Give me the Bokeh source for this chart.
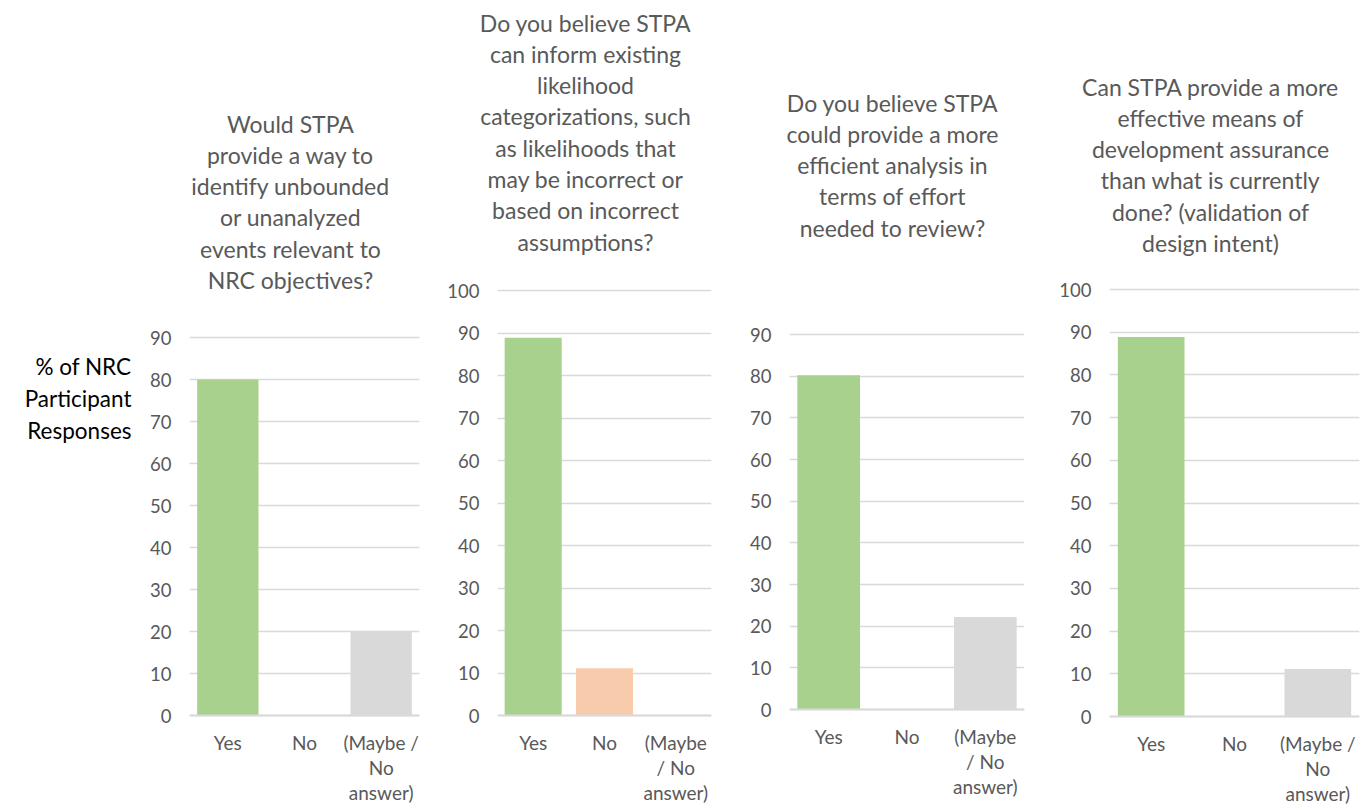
from bokeh.plotting import figure
from bokeh.layouts import row, column
from bokeh.models import FactorRange, Range1d, FixedTicker, Span
from bokeh.core.properties import value
from bokeh.embed import file_html
from bokeh.resources import INLINE

# ---------------- data ----------------
categories = ["Yes", "No", "(Maybe / No answer)"]
bar_colors = ["#A9D18E", "#F8CBAD", "#D9D9D9"]

titles = [
    ["Would STPA", "provide a way to", "identify unbounded", "or unanalyzed",
     "events relevant to", "NRC objectives?"],
    ["Do you believe STPA", "can inform existing", "likelihood", "categorizations, such",
     "as likelihoods that", "may be incorrect or", "based on incorrect", "assumptions?"],
    ["Do you believe STPA", "could provide a more", "efficient analysis in",
     "terms of effort", "needed to review?"],
    ["Can STPA provide a more", "effective means of", "development assurance",
     "than what is currently", "done? (validation of", "design intent)"],
]
q1_values = [80, 0, 20]
q2_values = [88.9, 11.1, 0]
q3_values = [80.2, 0, 22.2]
q4_values = [88.9, 0, 11.1]
all_values = [q1_values, q2_values, q3_values, q4_values]
y_max = [90, 100, 90, 100]
cat_labels = [
    [["Yes"], ["No"], ["(Maybe /", "No", "answer)"]],
    [["Yes"], ["No"], ["(Maybe", "/ No", "answer)"]],
    [["Yes"], ["No"], ["(Maybe", "/ No", "answer)"]],
    [["Yes"], ["No"], ["(Maybe /", "No", "answer)"]],
]
y_label = ["% of NRC", "Participant", "Responses"]

# ---------------- layout (pixels) ----------------
FONT = "Lato"
GRAY = "#595959"
H = 805
PAD = 12           # space above the top gridline inside the chart figure
TITLE_LS = 31.3    # title line spacing
CAT_LS = 25        # category label line spacing
CAT_GAP = 27       # baseline -> first category label line centre
# width, border left, border right, top gridline px, zero px, title shift, first title line px
panels = [
    (300, 49, 21, 337, 715, 0, 123),
    (300, 57, 29, 290, 715, -5, 22),
    (300, 49, 16, 334, 709, 2, 102),
    (320, 69, 1, 289, 716, 10, 86),
]


def bare(width, height, xr, yr):
    f = figure(width=width, height=height, x_range=xr, y_range=yr,
               x_axis_type=None, y_axis_type=None,
               output_backend="svg", toolbar_location=None,
               min_border_left=0, min_border_right=0,
               min_border_top=0, min_border_bottom=0)
    f.grid.visible = False
    f.outline_line_color = None
    f.frame_align = False
    return f


# y label panel
p0 = bare(140, H, Range1d(0, 140), Range1d(0, H))
yl_first = 366
p0.text(x=[131] * 3, y=[H - (yl_first + k * 32) for k in range(3)], text=y_label,
        text_align="right", text_baseline="middle", text_font=value(FONT),
        text_font_size="22.5px", text_color="#000000")
children = [p0]

for i in range(4):
    w, bl, br, ytop, y0, tshift, tfirst = panels[i]
    vals = all_values[i]
    ymax = y_max[i]

    # ---- title figure ----
    th = ytop - PAD
    tf = bare(w, th, Range1d(0, w), Range1d(0, th))
    lines = titles[i]
    tf.text(x=[w / 2 + tshift] * len(lines),
            y=[th - (tfirst + k * TITLE_LS) for k in range(len(lines))],
            text=lines, text_align="center", text_baseline="middle",
            text_font=value(FONT), text_font_size="23px", text_color=GRAY)

    # ---- chart figure ----
    ch = H - th
    scale = (y0 - ytop) / ymax
    p = figure(width=w, height=ch, x_range=FactorRange(factors=categories),
               y_range=Range1d(-(H - y0) / scale, ymax + PAD / scale),
               x_axis_location=None, output_backend="svg", toolbar_location=None,
               min_border_left=bl, min_border_right=br,
               min_border_top=0, min_border_bottom=0)
    p.frame_align = False
    p.vbar(x=categories, top=vals, width=0.8, color=bar_colors, line_color=None)

    p.outline_line_color = None
    p.xgrid.grid_line_color = None
    p.ygrid.grid_line_color = "#D9D9D9"
    p.ygrid.grid_line_width = 1.3
    p.yaxis.ticker = FixedTicker(ticks=list(range(0, ymax + 1, 10)))
    p.yaxis.axis_line_color = None
    p.yaxis.major_tick_line_color = None
    p.yaxis.minor_tick_line_color = None
    p.yaxis.major_tick_out = 0
    p.yaxis.major_tick_in = 0
    p.yaxis.major_label_standoff = 18
    p.yaxis.major_label_text_font = FONT
    p.yaxis.major_label_text_font_size = "18.5px"
    p.yaxis.major_label_text_color = GRAY

    p.add_layout(Span(location=0, dimension="width", line_color="#D9D9D9", line_width=2))

    # category labels (multi-line, each line centred under its bar)
    cx, cy, ct = [], [], []
    for cat, cl in zip(categories, cat_labels[i]):
        for k, t in enumerate(cl):
            cx.append(cat)
            cy.append(-(CAT_GAP + k * CAT_LS) / scale)
            ct.append(t)
    p.text(x=cx, y=cy, text=ct, text_align="center", text_baseline="middle",
           text_font=value(FONT), text_font_size="19px", text_color=GRAY)

    children.append(column(tf, p, spacing=0))

layout = row(*children, spacing=0)
open("out.html", "w").write(file_html(layout, INLINE))
